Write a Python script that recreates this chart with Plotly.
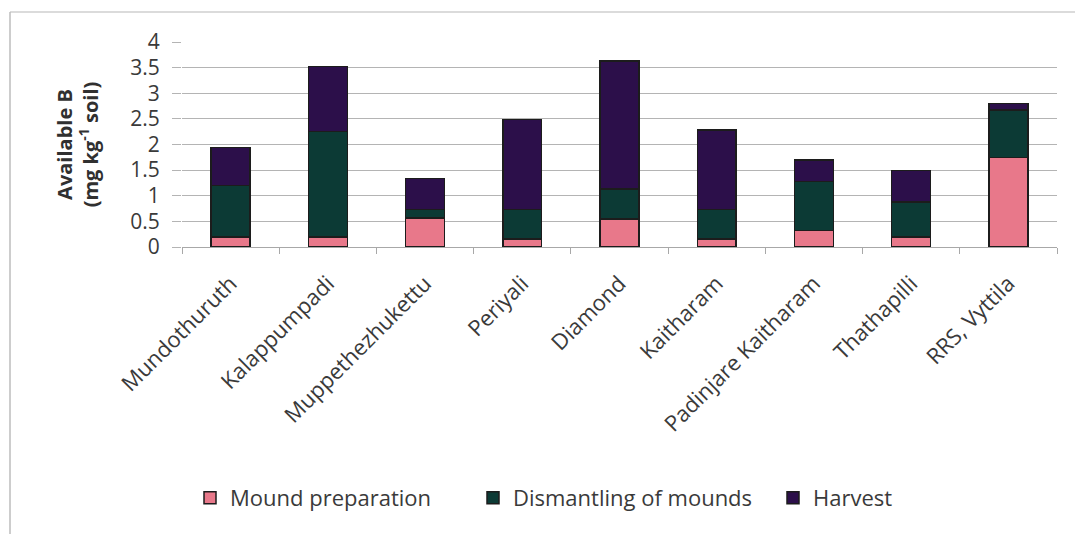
import plotly.graph_objects as go

sites = ["Mundothuruth", "Kalappumpadi", "Muppethezhukettu", "Periyali", "Diamond",
         "Kaitharam", "Padinjare Kaitharam", "Thathapilli", "RRS, Vyttila"]
mound_preparation = [0.20, 0.20, 0.57, 0.16, 0.55, 0.16, 0.32, 0.20, 1.75]
dismantling_of_mounds = [1.00, 2.05, 0.16, 0.57, 0.58, 0.57, 0.96, 0.68, 0.92]
harvest = [0.74, 1.27, 0.61, 1.76, 2.50, 1.55, 0.42, 0.61, 0.13]
y_ticks = [0, 0.5, 1, 1.5, 2, 2.5, 3, 3.5, 4]

FONT = "Open Sans, Lato, sans-serif"
TXT = "#3a3a3a"

fig = go.Figure()
outline = dict(color="#1c1c1c", width=1.5)
fig.add_trace(go.Bar(x=sites, y=mound_preparation, name="Mound preparation",
                     marker=dict(color="#e8788a", line=outline), legend="legend"))
fig.add_trace(go.Bar(x=sites, y=dismantling_of_mounds, name="Dismantling of mounds",
                     marker=dict(color="#0c3a35", line=outline), legend="legend2"))
fig.add_trace(go.Bar(x=sites, y=harvest, name="Harvest",
                     marker=dict(color="#2c0f4a", line=outline), legend="legend3"))

L, R, T, B = 182, 18, 42, 287
W, H = 1075, 534
pw, ph = W - L - R, H - T - B

def px_x(x):
    return (x - L) / pw

def px_y(y):
    return (H - B - y) / ph

def leg(xpx):
    return dict(orientation="h", x=px_x(xpx), xanchor="left", y=px_y(498), yanchor="middle",
                font=dict(size=22, color=TXT, family=FONT), itemwidth=30,
                bgcolor="rgba(0,0,0,0)")

fig.update_layout(
    barmode="stack",
    bargap=0.6,
    width=W, height=H,
    margin=dict(l=L, r=R, t=T, b=B),
    paper_bgcolor="white",
    plot_bgcolor="white",
    font=dict(family=FONT, color=TXT),
    showlegend=True,
    legend=leg(190),
    legend2=leg(473),
    legend3=leg(773),
    xaxis=dict(
        tickangle=-45,
        tickfont=dict(size=22, color=TXT),
        showgrid=False,
        showline=True, linecolor="#a8a8a8", linewidth=1,
        ticks="outside", ticklen=6, tickcolor="#a8a8a8", tickson="boundaries",
        ticklabelstandoff=14,
    ),
    yaxis=dict(
        range=[0, 4],
        tickvals=y_ticks,
        ticktext=[f"{v:g}" for v in y_ticks],
        tickfont=dict(size=21, color=TXT),
        showgrid=True, gridcolor="#b4b4b4", gridwidth=1,
        zeroline=False,
        showline=False,
        ticks="outside", ticklen=9, tickcolor="#b4b4b4",
        ticklabelstandoff=8,
        title=dict(text="<b>Available B<br>(mg kg<sup>-1</sup> soil)</b>",
                   font=dict(size=20, color="#303030"), standoff=26),
    ),
    shapes=[
        dict(type="line", xref="paper", yref="paper",
             x0=px_x(10), x1=px_x(1075), y0=px_y(12), y1=px_y(12),
             line=dict(color="#cfcfcf", width=1.5)),
        dict(type="line", xref="paper", yref="paper",
             x0=px_x(10), x1=px_x(10), y0=px_y(12), y1=px_y(534),
             line=dict(color="#bdbdbd", width=1.5)),
    ],
)

fig.write_html("out.html")
